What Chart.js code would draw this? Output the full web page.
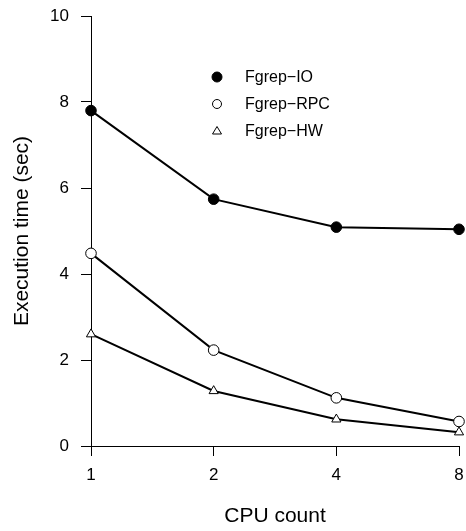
<!DOCTYPE html>
<html>
<head>
<meta charset="utf-8">
<script src="https://cdn.jsdelivr.net/npm/chart.js@4/dist/chart.umd.min.js"></script>
<style>
	html, body { margin: 0; padding: 0; background: #fff; }
	#canvasChart { display: block; }
</style>
</head>
<body>
<canvas id="canvasChart" width="466" height="531"></canvas>
<script>
"use strict";

// data
var cpuCounts = ['1', '2', '4', '8'];
var fgrepIO = [7.80, 5.74, 5.09, 5.04];
var fgrepRPC = [4.48, 2.23, 1.12, 0.57];
var fgrepHW = [2.60, 1.28, 0.62, 0.32];
var seriesNames = ['Fgrep\u2212IO', 'Fgrep\u2212RPC', 'Fgrep\u2212HW'];
var yTicks = [0, 2, 4, 6, 8, 10];

var fontFamily = '"Liberation Sans", Arial, sans-serif';

// legend drawn inside the plot, top middle
var insideLegend = {
	id: 'insideLegend',
	afterDraw: function (chart) {
		var ctx = chart.ctx;
		ctx.save();
		ctx.font = '16px ' + fontFamily;
		ctx.textBaseline = 'middle';
		chart.data.datasets.forEach(function (ds, i) {
			var x = 217, y = 77 + i * 27;
			ctx.beginPath();
			ctx.lineWidth = 1;
			ctx.strokeStyle = '#000';
			ctx.fillStyle = ds.pointBackgroundColor;
			if (ds.pointStyle === 'triangle') {
				ctx.moveTo(x, y - 4.5);
				ctx.lineTo(x + 4.5, y + 3);
				ctx.lineTo(x - 4.5, y + 3);
				ctx.closePath();
			} else {
				ctx.arc(x, y, i == 0 ? 5 : 4.5, 0, Math.PI * 2);
			}
			ctx.fill();
			ctx.stroke();
			ctx.fillStyle = '#000';
			ctx.fillText(ds.label, 245, y + 1);
		});
		ctx.restore();
	}
};

function makeSet(label, data, style, fill) {
	return {
		label: label,
		data: data,
		borderColor: '#000',
		borderWidth: 2,
		pointStyle: style,
		pointRadius: 5.3,
		pointBorderWidth: 1,
		pointBorderColor: '#000',
		pointBackgroundColor: fill,
		tension: 0,
		clip: false
	};
}

// keep the plot box fixed: no extra room asked for by edge labels
function noEdgePadding(scale) {
	scale.paddingTop = 0;
	scale.paddingBottom = 0;
	scale.paddingLeft = 0;
	scale.paddingRight = 0;
}

const context = document.getElementById('canvasChart');
const myChart = new Chart(context, {
	type: 'line',
	data: {
		labels: cpuCounts,
		datasets: [
			makeSet(seriesNames[0], fgrepIO, 'circle', '#000'),
			makeSet(seriesNames[1], fgrepRPC, 'circle', '#fff'),
			makeSet(seriesNames[2], fgrepHW, 'triangle', '#fff')
		]
	},
	plugins: [insideLegend],
	options: {
		responsive: false,
		animation: false,
		devicePixelRatio: 1,
		layout: { padding: { top: 16, right: 7, left: 0, bottom: 0 } },
		plugins: {
			legend: { display: false },
			tooltip: { enabled: false }
		},
		scales: {
			x: {
				type: 'category',
				offset: false,
				grid: { drawOnChartArea: false, drawTicks: true, tickLength: 10, color: '#000', lineWidth: 1 },
				border: { display: true, color: '#000', width: 1 },
				ticks: { color: '#000', font: { family: fontFamily, size: 17 }, padding: 9, maxRotation: 0 },
				title: { display: true, text: 'CPU count', color: '#000', font: { family: fontFamily, size: 21 }, padding: { top: 0, bottom: 2 } },
				afterFit: function (scale) { scale.height = 85; noEdgePadding(scale); }
			},
			y: {
				min: 0,
				max: 10,
				afterBuildTicks: function (scale) {
					scale.ticks = yTicks.map(function (v) { return { value: v }; });
				},
				grid: { drawOnChartArea: false, drawTicks: true, tickLength: 10, color: '#000', lineWidth: 1 },
				border: { display: true, color: '#000', width: 1 },
				ticks: { color: '#000', font: { family: fontFamily, size: 17 }, padding: 12 },
				title: { display: true, text: 'Execution time (sec)', color: '#000', font: { family: fontFamily, size: 21 }, padding: { top: 10, bottom: 0 } },
				afterFit: function (scale) { scale.width = 91; noEdgePadding(scale); }
			}
		}
	}
});
</script>
</body>
</html>
